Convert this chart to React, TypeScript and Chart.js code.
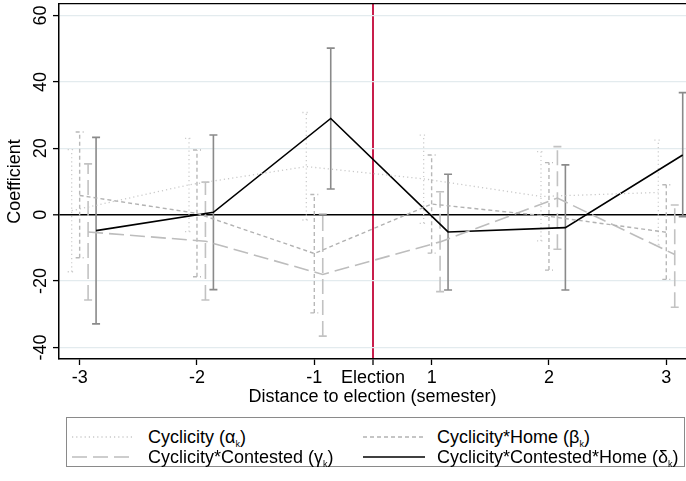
import React, { useEffect, useRef } from 'react';
import { Chart, registerables } from 'chart.js';

Chart.register(...registerables);

// ---- data ----
const semesters = [-3, -2, -1, 1, 2, 3];
const xTickLabels = ['-3', '-2', '-1', 'Election', '1', '2', '3'];
const xTickSemesters = [-3, -2, -1, 0, 1, 2, 3];
const yTicks = [-40, -20, 0, 20, 40, 60];

const alphaCoef = [1.2, 9, 14.5, 10.8, 5.5, 6.7];
const alphaLo = [-17.2, -5.1, -1.6, -2.6, -7.9, -9.1];
const alphaHi = [19.6, 23, 30.8, 24, 19, 22.5];

const betaCoef = [5.8, 0.4, -11.7, 3.2, -0.5, -5.3];
const betaLo = [-13, -18.7, -29.6, -11.6, -16.7, -19.5];
const betaHi = [24.9, 19.5, 6.1, 18, 15.7, 9];

const gammaCoef = [-5.2, -8, -18, -8.2, 5, -12];
const gammaLo = [-25.7, -25.7, -36.6, -23.2, -10.4, -27.9];
const gammaHi = [15.3, 9.8, 0.2, 6.9, 20.5, 2.9];

const deltaCoef = [-4.8, 0.7, 29, -5.2, -3.9, 18];
const deltaLo = [-32.9, -22.6, 7.75, -22.7, -22.7, -0.6];
const deltaHi = [23.3, 24, 50.2, 12.2, 15, 36.8];

// ---- styling ----
const FONT = '"Liberation Sans", Arial, Helvetica, sans-serif';
const RED = '#c81e4b';
const X_MIN = -2.676;
const X_MAX = 2.668;
const CAP = 0.034;

// axis position: the election sits half way between -1 and 1
const axisPos = (s: number) => (s < 0 ? s + 0.5 : s > 0 ? s - 0.5 : 0);

const seriesDefs = [
  { coef: alphaCoef, lo: alphaLo, hi: alphaHi, off: -0.068, line: '#c9c9c9', bar: '#cdcdcd', dash: [1.2, 3], lw: 1.3, bw: 1.3 },
  { coef: betaCoef, lo: betaLo, hi: betaHi, off: 0, line: '#b2b2b2', bar: '#b8b8b8', dash: [4, 3], lw: 1.4, bw: 1.4 },
  { coef: gammaCoef, lo: gammaLo, hi: gammaHi, off: 0.072, line: '#bdbdbd', bar: '#c2c2c2', dash: [15, 6], lw: 1.6, bw: 1.6 },
  { coef: deltaCoef, lo: deltaLo, hi: deltaHi, off: 0.14, line: '#000000', bar: '#8a8a8a', dash: [] as number[], lw: 1.6, bw: 1.6 },
];

function buildDatasets() {
  const sets: any[] = [];
  seriesDefs.forEach((d) => {
    const bars: any[] = [];
    semesters.forEach((s, i) => {
      const x = axisPos(s) + d.off;
      bars.push({ x, y: d.lo[i] }, { x, y: d.hi[i] }, { x, y: null });
      bars.push({ x: x - CAP, y: d.hi[i] }, { x: x + CAP, y: d.hi[i] }, { x, y: null });
      bars.push({ x: x - CAP, y: d.lo[i] }, { x: x + CAP, y: d.lo[i] }, { x, y: null });
    });
    sets.push({
      data: bars,
      showLine: true,
      spanGaps: false,
      borderColor: d.bar,
      borderWidth: d.bw,
      borderDash: d.dash,
      pointRadius: 0,
      fill: false,
      order: 2,
    });
  });
  seriesDefs.forEach((d) => {
    sets.push({
      data: semesters.map((s, i) => ({ x: axisPos(s) + d.off, y: d.coef[i] })),
      showLine: true,
      borderColor: d.line,
      borderWidth: d.lw,
      borderDash: d.dash,
      pointRadius: 0,
      fill: false,
      tension: 0,
      order: 1,
    });
  });
  return sets;
}

const yLabelPlugin = {
  id: 'yRotatedLabels',
  afterDraw(chart: any) {
    const ys = chart.scales.y;
    const ctx = chart.ctx;
    ctx.save();
    ctx.fillStyle = '#000';
    ctx.font = `18px ${FONT}`;
    ctx.textAlign = 'center';
    ctx.textBaseline = 'alphabetic';
    yTicks.forEach((v) => {
      const py = ys.getPixelForValue(v);
      ctx.save();
      ctx.translate(45.5, py);
      ctx.rotate(-Math.PI / 2);
      ctx.fillText(String(v), 0, 0);
      ctx.restore();
    });
    ctx.restore();
  },
};

function LegendSample({ color, dash, width }: { color: string; dash: string; width: number }) {
  return (
    <svg width={62} height={6} style={{ display: 'block' }}>
      <line x1={0} y1={3} x2={62} y2={3} stroke={color} strokeWidth={width} strokeDasharray={dash} />
    </svg>
  );
}

export default function App() {
  const ref = useRef<HTMLCanvasElement | null>(null);

  useEffect(() => {
    if (!ref.current) return;
    const labelFor = (v: number) => {
      const idx = xTickSemesters.findIndex((s) => Math.abs(axisPos(s) - v) < 1e-6);
      return idx >= 0 ? xTickLabels[idx] : '';
    };
    const chart = new Chart(ref.current, {
      type: 'scatter',
      data: { datasets: buildDatasets() },
      options: {
        animation: false,
        responsive: false,
        maintainAspectRatio: false,
        layout: { padding: 0 },
        plugins: { legend: { display: false }, tooltip: { enabled: false } },
        scales: {
          x: {
            type: 'linear',
            position: 'bottom',
            min: X_MIN,
            max: X_MAX,
            afterBuildTicks: (s: any) => {
              s.ticks = xTickSemesters.map((v) => ({ value: axisPos(v) }));
            },
            afterFit: (s: any) => {
              s.height = 122;
            },
            ticks: {
              callback: (v: any) => labelFor(Number(v)),
              font: { family: FONT, size: 18 },
              color: '#000',
              padding: 2,
              maxRotation: 0,
              minRotation: 0,
              autoSkip: false,
            },
            grid: {
              color: (c: any) => (c.tick && c.tick.value === 0 ? RED : 'rgba(0,0,0,0)'),
              lineWidth: (c: any) => (c.tick && c.tick.value === 0 ? 2 : 1),
              tickColor: '#000',
              tickWidth: 1.3,
              tickLength: 6,
            },
            border: { display: true, color: '#000', width: 1.5 },
            title: {
              display: true,
              text: 'Distance to election (semester)',
              font: { family: FONT, size: 18 },
              color: '#000',
              padding: { top: 0, bottom: 73 },
            },
          },
          x2: {
            type: 'linear',
            position: 'top',
            min: X_MIN,
            max: X_MAX,
            ticks: { display: false },
            grid: { display: false, drawTicks: false },
            border: { display: true, color: '#000', width: 1.3 },
            afterFit: (s: any) => {
              s.height = 4;
            },
          },
          y: {
            type: 'linear',
            position: 'left',
            min: -43.5,
            max: 63.5,
            afterBuildTicks: (s: any) => {
              s.ticks = yTicks.map((v) => ({ value: v }));
            },
            afterFit: (s: any) => {
              s.width = 59;
            },
            ticks: { display: false },
            grid: {
              color: (c: any) => (c.tick && c.tick.value === 0 ? '#000' : '#e3ebee'),
              lineWidth: (c: any) => (c.tick && c.tick.value === 0 ? 1.6 : 1.2),
              tickColor: '#000',
              tickWidth: 1.3,
              tickLength: 6,
            },
            border: { display: true, color: '#000', width: 1.5 },
            title: {
              display: true,
              text: 'Coefficient',
              font: { family: FONT, size: 18 },
              color: '#000',
              padding: { top: 4, bottom: 0 },
            },
          },
        },
      } as any,
      plugins: [yLabelPlugin],
    });
    return () => chart.destroy();
  }, []);

  const textStyle: React.CSSProperties = {
    position: 'absolute',
    fontFamily: FONT,
    fontSize: 18,
    lineHeight: '20px',
    color: '#000',
    whiteSpace: 'nowrap',
  };
  const sub: React.CSSProperties = { fontSize: 9, verticalAlign: 'baseline', position: 'relative', top: 4 };

  return (
    <div style={{ position: 'fixed', left: 0, top: 0, width: 686, height: 481, background: '#fff', overflow: 'hidden' }}>
      <canvas ref={ref} width={686} height={481} style={{ position: 'absolute', left: 0, top: 0, width: 686, height: 481 }} />
      <div
        style={{
          position: 'absolute',
          left: 66,
          top: 417,
          width: 619,
          height: 50,
          border: '1.5px solid #8a8a8a',
          boxSizing: 'border-box',
          background: '#fff',
        }}
      />
      <div style={{ position: 'absolute', left: 72, top: 434 }}>
        <LegendSample color="#c9c9c9" dash="1.2 3" width={1.3} />
      </div>
      <div style={{ ...textStyle, left: 148, top: 427 }}>
        Cyclicity (α<span style={sub}>k</span>)
      </div>
      <div style={{ position: 'absolute', left: 363, top: 434 }}>
        <LegendSample color="#b2b2b2" dash="4 3" width={1.4} />
      </div>
      <div style={{ ...textStyle, left: 437, top: 427 }}>
        Cyclicity*Home (β<span style={sub}>k</span>)
      </div>
      <div style={{ position: 'absolute', left: 72, top: 454 }}>
        <LegendSample color="#bdbdbd" dash="15 6" width={1.6} />
      </div>
      <div style={{ ...textStyle, left: 148, top: 447 }}>
        Cyclicity*Contested (γ<span style={sub}>k</span>)
      </div>
      <div style={{ position: 'absolute', left: 363, top: 454 }}>
        <LegendSample color="#000000" dash="" width={1.6} />
      </div>
      <div style={{ ...textStyle, left: 437, top: 447 }}>
        Cyclicity*Contested*Home (δ<span style={sub}>k</span>)
      </div>
    </div>
  );
}
